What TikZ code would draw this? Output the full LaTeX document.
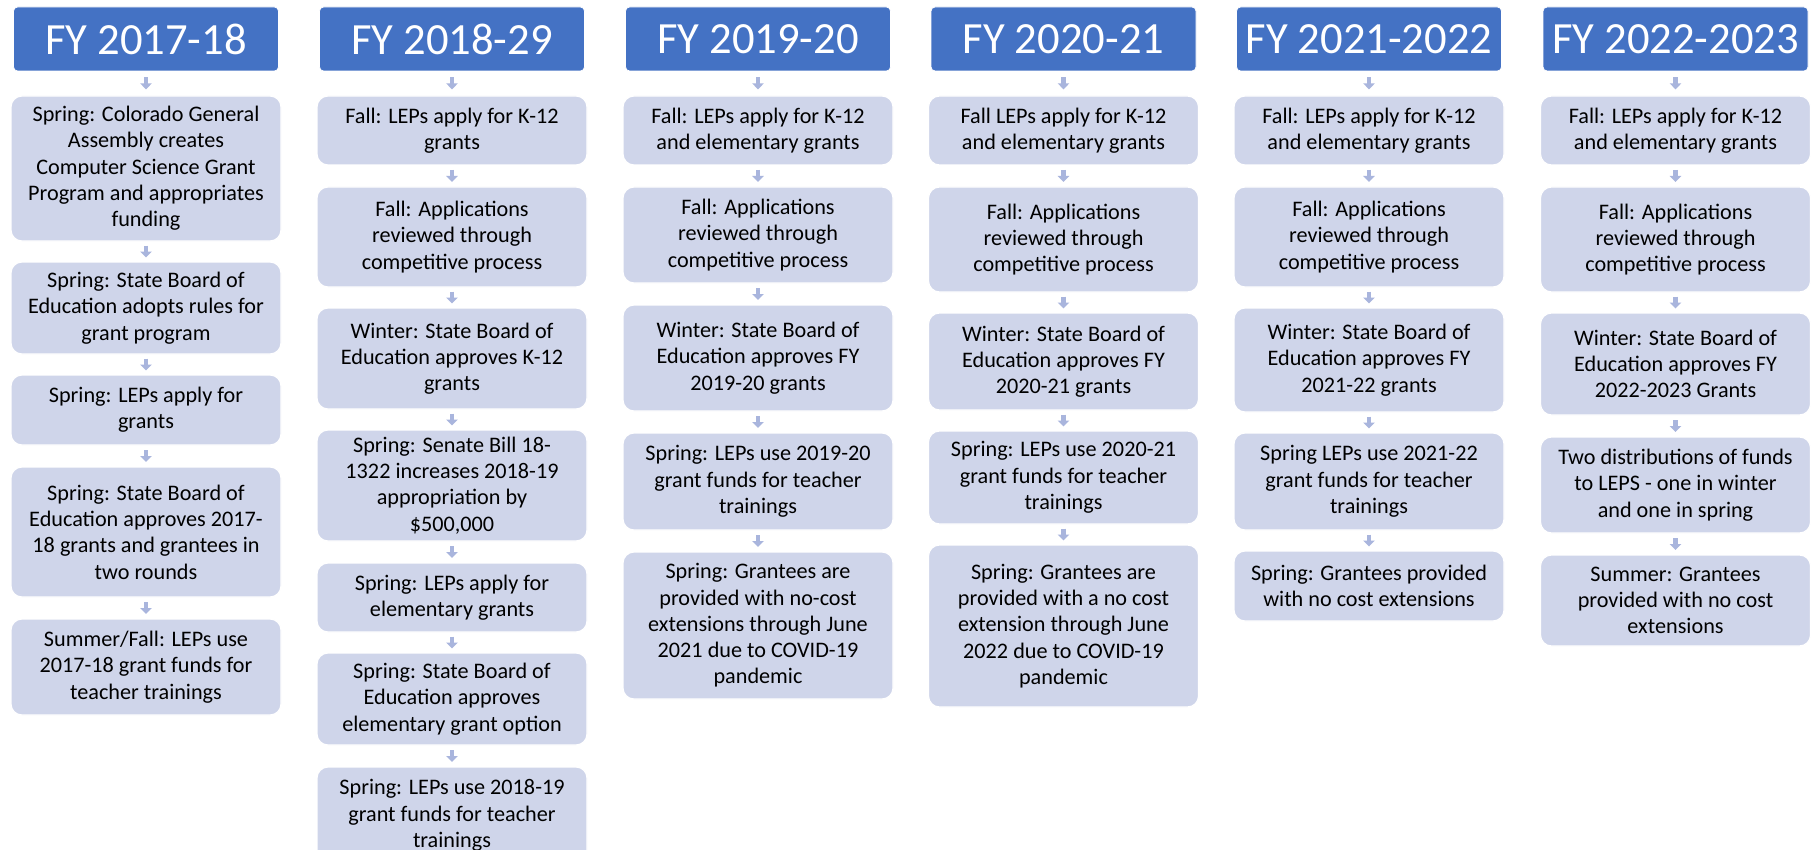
\documentclass[tikz,border=0pt]{standalone}
\usepackage{fontspec}
\setmainfont{Carlito}
\usetikzlibrary{calc,arrows.meta}
\definecolor{hdrblue}{HTML}{4472C4}
\definecolor{boxfill}{HTML}{CFD5EA}
\definecolor{arrowcol}{HTML}{A9B5DD}
\newcommand{\tlbox}[5]{\node[stepbox, minimum height={(#4-#3)*0.5pt}] (#1) at (#2,{(#3+#4)/2}) {#5};}
\newcommand{\tlhead}[3]{\node[headbox] (#1) at (#2,39) {#3};}
\begin{document}
\begin{tikzpicture}[x=0.5pt,y=-0.5pt,
  stepbox/.style={draw=white, line width=0.6pt, fill=boxfill, rounded corners=5.5pt,
    minimum width=135pt, inner sep=0pt, align=center,
    font=\fontsize{11.1pt}{13.15pt}\selectfont, text=black},
  headbox/.style={draw=white, line width=0.4pt, fill=hdrblue, rounded corners=2pt,
    minimum width=132.5pt, minimum height=32pt, inner sep=0pt,
    font=\fontsize{22.3pt}{26pt}\selectfont, text=white},
  flowarrow/.style={draw=arrowcol, line width=2.4pt,
    -{Triangle[width=5.6pt,length=3pt]},
    to path={($(\tikztostart)!0.5!(\tikztotarget)+(0,3pt)$) -- ($(\tikztostart)!0.5!(\tikztotarget)+(0,-3pt)$)}}
]
\clip (0,0) rectangle (1818,850);
\fill[white] (0,0) rectangle (1818,850);

% Column 1
\tlhead{h1}{146}{FY 2017-18}
\tlbox{a1}{146}{96}{241}{Spring: Colorado General\\Assembly creates\\Computer Science Grant\\Program and appropriates\\funding}
\tlbox{a2}{146}{262}{354}{Spring: State Board of\\Education adopts rules for\\grant program}
\tlbox{a3}{146}{375}{445}{Spring: LEPs apply for\\grants}
\tlbox{a4}{146}{467}{597}{Spring: State Board of\\Education approves 2017-\\18 grants and grantees in\\two rounds}
\tlbox{a5}{146}{619}{715}{Summer/Fall: LEPs use\\2017-18 grant funds for\\teacher trainings}
\draw[flowarrow] (h1.south) to (a1.north);
\draw[flowarrow] (a1.south) to (a2.north);
\draw[flowarrow] (a2.south) to (a3.north);
\draw[flowarrow] (a3.south) to (a4.north);
\draw[flowarrow] (a4.south) to (a5.north);

% Column 2
\tlhead{h2}{452}{FY 2018-29}
\tlbox{b1}{452}{96}{165}{Fall: LEPs apply for K-12\\grants}
\tlbox{b2}{452}{187}{287}{Fall: Applications\\reviewed through\\competitive process}
\tlbox{b3}{452}{308}{409}{Winter: State Board of\\Education approves K-12\\grants}
\tlbox{b4}{452}{430}{541}{Spring: Senate Bill 18-\\1322 increases 2018-19\\appropriation by\\\$500,000}
\tlbox{b5}{452}{563}{632}{Spring: LEPs apply for\\elementary grants}
\tlbox{b6}{452}{653}{745}{Spring: State Board of\\Education approves\\elementary grant option}
\tlbox{b7}{452}{767}{864}{Spring: LEPs use 2018-19\\grant funds for teacher\\trainings}
\draw[flowarrow] (h2.south) to (b1.north);
\draw[flowarrow] (b1.south) to (b2.north);
\draw[flowarrow] (b2.south) to (b3.north);
\draw[flowarrow] (b3.south) to (b4.north);
\draw[flowarrow] (b4.south) to (b5.north);
\draw[flowarrow] (b5.south) to (b6.north);
\draw[flowarrow] (b6.south) to (b7.north);

% Column 3
\tlhead{h3}{758}{FY 2019-20}
\tlbox{c1}{758}{96}{165}{Fall: LEPs apply for K-12\\and elementary grants}
\tlbox{c2}{758}{187}{283}{Fall: Applications\\reviewed through\\competitive process}
\tlbox{c3}{758}{305}{411}{Winter: State Board of\\Education approves FY\\2019-20 grants}
\tlbox{c4}{758}{433}{530}{Spring: LEPs use 2019-20\\grant funds for teacher\\trainings}
\tlbox{c5}{758}{552}{699}{Spring: Grantees are\\provided with no-cost\\extensions through June\\2021 due to COVID-19\\pandemic}
\draw[flowarrow] (h3.south) to (c1.north);
\draw[flowarrow] (c1.south) to (c2.north);
\draw[flowarrow] (c2.south) to (c3.north);
\draw[flowarrow] (c3.south) to (c4.north);
\draw[flowarrow] (c4.south) to (c5.north);

% Column 4
\tlhead{h4}{1063.5}{FY 2020-21}
\tlbox{d1}{1063.5}{96}{165}{Fall LEPs apply for K-12\\and elementary grants}
\tlbox{d2}{1063.5}{187}{292}{Fall: Applications\\reviewed through\\competitive process}
\tlbox{d3}{1063.5}{313}{410}{Winter: State Board of\\Education approves FY\\2020-21 grants}
\tlbox{d4}{1063.5}{431}{524}{Spring: LEPs use 2020-21\\grant funds for teacher\\trainings}
\tlbox{d5}{1063.5}{545}{707}{Spring: Grantees are\\provided with a no cost\\extension through June\\2022 due to COVID-19\\pandemic}
\draw[flowarrow] (h4.south) to (d1.north);
\draw[flowarrow] (d1.south) to (d2.north);
\draw[flowarrow] (d2.south) to (d3.north);
\draw[flowarrow] (d3.south) to (d4.north);
\draw[flowarrow] (d4.south) to (d5.north);

% Column 5
\tlhead{h5}{1369}{FY 2021-2022}
\tlbox{e1}{1369}{96}{165}{Fall: LEPs apply for K-12\\and elementary grants}
\tlbox{e2}{1369}{187}{287}{Fall: Applications\\reviewed through\\competitive process}
\tlbox{e3}{1369}{308}{412}{Winter: State Board of\\Education approves FY\\2021-22 grants}
\tlbox{e4}{1369}{433}{530}{Spring LEPs use 2021-22\\grant funds for teacher\\trainings}
\tlbox{e5}{1369}{551}{621}{Spring: Grantees provided\\with no cost extensions}
\draw[flowarrow] (h5.south) to (e1.north);
\draw[flowarrow] (e1.south) to (e2.north);
\draw[flowarrow] (e2.south) to (e3.north);
\draw[flowarrow] (e3.south) to (e4.north);
\draw[flowarrow] (e4.south) to (e5.north);

% Column 6
\tlhead{h6}{1675.5}{FY 2022-2023}
\tlbox{f1}{1675.5}{96}{165}{Fall: LEPs apply for K-12\\and elementary grants}
\tlbox{f2}{1675.5}{187}{292}{Fall: Applications\\reviewed through\\competitive process}
\tlbox{f3}{1675.5}{313}{415}{Winter: State Board of\\Education approves FY\\2022-2023 Grants}
\tlbox{f4}{1675.5}{437}{533}{Two distributions of funds\\to LEPS - one in winter\\and one in spring}
\tlbox{f5}{1675.5}{555}{646}{Summer: Grantees\\provided with no cost\\extensions}
\draw[flowarrow] (h6.south) to (f1.north);
\draw[flowarrow] (f1.south) to (f2.north);
\draw[flowarrow] (f2.south) to (f3.north);
\draw[flowarrow] (f3.south) to (f4.north);
\draw[flowarrow] (f4.south) to (f5.north);
\end{tikzpicture}
\end{document}
